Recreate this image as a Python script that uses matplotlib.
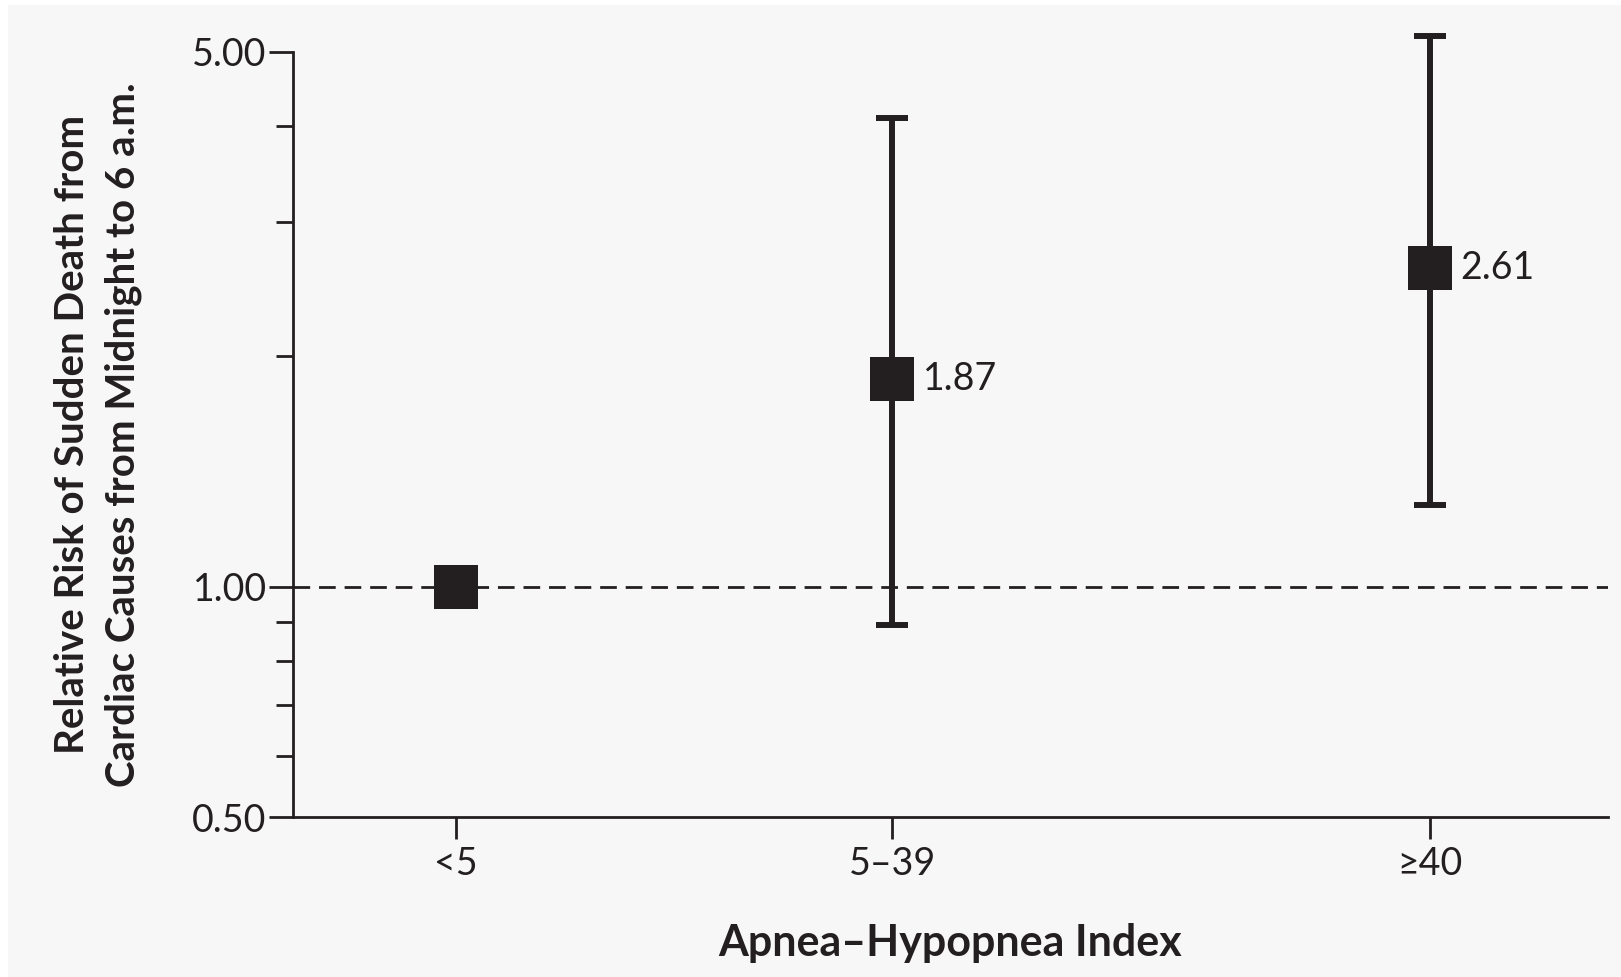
import matplotlib
matplotlib.use("Agg")
import matplotlib.pyplot as plt
from matplotlib.patches import Rectangle
from matplotlib.ticker import FixedLocator, NullFormatter

# ---- data ----
categories = ["<5", "5\u201339", "\u226540"]
relative_risk = [1.00, 1.87, 2.61]
ci_lower = [1.00, 0.89, 1.28]
ci_upper = [1.00, 4.10, 5.25]
value_labels = ["", "1.87", "2.61"]
y_major_ticks = [0.5, 1.0, 5.0]
y_major_labels = ["0.50", "1.00", "5.00"]
y_minor_ticks = [0.6, 0.7, 0.8, 0.9, 2, 3, 4]

# ---- layout (not data) ----
x_pos = [0.0, 1.0, 2.234]
INK = "#231f20"
W, H = 1621, 977

plt.rcParams["font.family"] = ["Lato", "DejaVu Sans"]

fig = plt.figure(figsize=(W / 100, H / 100), dpi=100, facecolor="white")
fig.patches.append(Rectangle((8 / W, 0), 1 - 8 / W, 1 - 5 / H,
                             transform=fig.transFigure, facecolor="#f7f7f7",
                             edgecolor="none", zorder=-10))

left, right, bottom, top = 293 / W, 1608 / W, 1 - 817 / H, 1 - 52 / H
ax = fig.add_axes([left, bottom, right - left, top - bottom])
ax.set_zorder(5)
ax.set_facecolor("none")
ax.set_yscale("log")
ax.set_ylim(0.5, 5.0)
ax.set_xlim(-0.374, 2.642)

# reference line
ref = ax.axhline(1.0, color=INK, lw=2.0, zorder=1)
ref.set_dashes((6.0, 3.2))

# error bars for groups with CI
for i in range(len(categories)):
    yerr_lo = relative_risk[i] - ci_lower[i]
    yerr_hi = ci_upper[i] - relative_risk[i]
    if yerr_lo > 0 or yerr_hi > 0:
        eb = ax.errorbar([x_pos[i]], [relative_risk[i]], yerr=[[yerr_lo], [yerr_hi]],
                         fmt="none", ecolor=INK, elinewidth=4.3, capsize=11.5,
                         capthick=4.3, zorder=2)
        for art in list(eb.lines[1]) + list(eb.lines[2]):
            art.set_clip_on(False)

ax.plot(x_pos, relative_risk, linestyle="none", marker="s", markersize=32,
        color=INK, markeredgewidth=0, zorder=3, clip_on=False)

for i, lab in enumerate(value_labels):
    if lab:
        ax.annotate(lab, xy=(x_pos[i], relative_risk[i]), xytext=(22, 0),
                    textcoords="offset points", ha="left", va="center",
                    fontsize=27, color=INK)

# axes styling
for s in ["top", "right"]:
    ax.spines[s].set_visible(False)
for s in ["left", "bottom"]:
    ax.spines[s].set_color(INK)
    ax.spines[s].set_linewidth(2.0)

ax.yaxis.set_major_locator(FixedLocator(y_major_ticks))
ax.set_yticklabels(y_major_labels)
ax.yaxis.set_minor_locator(FixedLocator(y_minor_ticks))
ax.yaxis.set_minor_formatter(NullFormatter())
ax.tick_params(axis="y", which="major", length=17, width=2.0, color=INK,
               labelsize=27, labelcolor=INK, pad=2)
ax.tick_params(axis="y", which="minor", length=12, width=2.0, color=INK)

ax.set_xticks(x_pos)
ax.set_xticklabels(categories)
ax.tick_params(axis="x", which="major", length=16, width=2.0, color=INK,
               labelsize=27, labelcolor=INK, pad=5)

ax.set_xlabel("Apnea\u2013Hypopnea Index", fontsize=31, fontweight="bold",
              color=INK, va="center")
ax.xaxis.set_label_coords(0.5, (817 - 943) / (817 - 52))

ax.set_ylabel("Relative Risk of Sudden Death from\nCardiac Causes from Midnight to 6 a.m.",
              fontsize=29, fontweight="bold", color=INK, va="center",
              linespacing=1.45)
ax.yaxis.set_label_coords((98 - 293) / (1608 - 293), 0.5)

fig.savefig("out.png", dpi=100, facecolor=fig.get_facecolor())
